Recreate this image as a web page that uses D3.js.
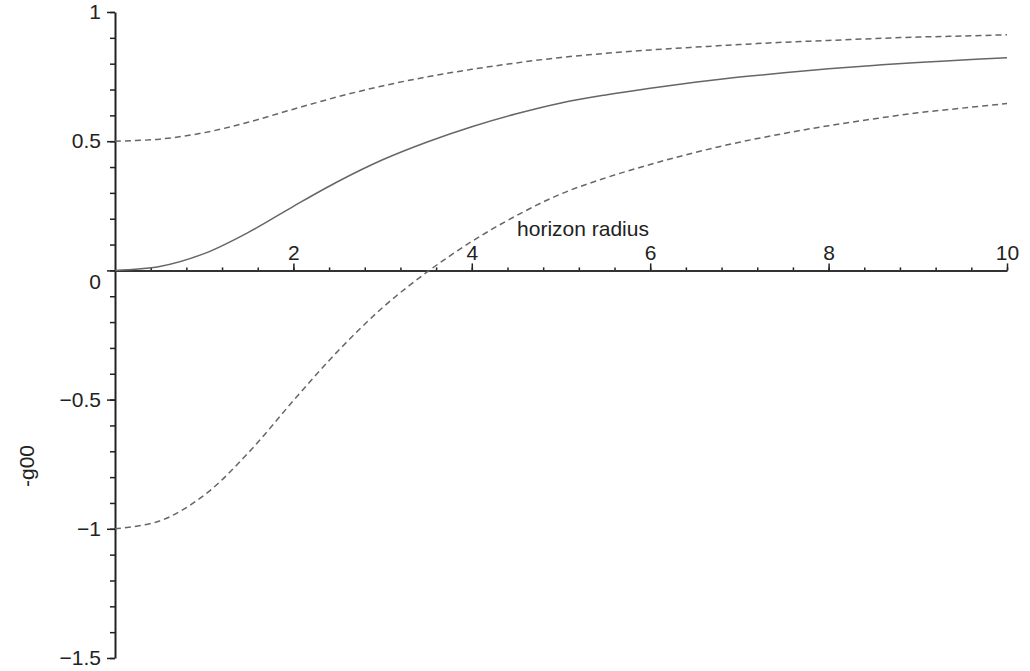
<!DOCTYPE html>
<html>
<head>
<meta charset="utf-8">
<script src="https://cdn.jsdelivr.net/npm/d3@7"></script>
<style>
  body { margin: 0; background: #fff; }
  text { font-family: "Liberation Sans", Arial, sans-serif; fill: #222; }
</style>
</head>
<body>
<div id="container"></div>
<script>
/* DATA */
const radius = [0, 0.5, 1, 1.5, 2, 2.5, 3, 3.5, 4, 4.5, 5, 5.5, 6, 6.5, 7, 7.5, 8, 8.5, 9, 9.5, 10];
const upperG00 = [0.5, 0.508, 0.533, 0.574, 0.624, 0.672, 0.714, 0.749, 0.778, 0.803, 0.824, 0.840, 0.853, 0.864, 0.874, 0.883, 0.890, 0.897, 0.903, 0.907, 0.912];
const middleG00 = [0, 0.015, 0.065, 0.148, 0.248, 0.344, 0.428, 0.497, 0.556, 0.606, 0.648, 0.679, 0.705, 0.728, 0.748, 0.765, 0.780, 0.793, 0.805, 0.814, 0.823];
const lowerG00 = [-1, -0.97, -0.87, -0.704, -0.504, -0.312, -0.144, -0.006, 0.112, 0.212, 0.296, 0.358, 0.41, 0.456, 0.496, 0.53, 0.56, 0.586, 0.61, 0.628, 0.646];
const xTicks = [2, 4, 6, 8, 10];
const yTicks = [1, 0.5, 0, -0.5, -1, -1.5];

/* LAYOUT */
const width = 1030, height = 671;
const margin = { top: 12, right: 23, bottom: 13, left: 115 };

const svg = d3.select('#container')
  .append('svg')
  .attr('width', width)
  .attr('height', height);

const xScale = d3.scaleLinear()
  .domain([0, 10])
  .range([margin.left, width - margin.right]);

const yScale = d3.scaleLinear()
  .domain([-1.5, 1])
  .range([height - margin.bottom, margin.top]);

const fmt = d => d3.format('')(d).replace('-', '\u2212');

// y axis: minor ticks then major ticks
svg.append('g')
  .attr('transform', `translate(${xScale(0)},0)`)
  .call(d3.axisLeft(yScale).tickValues(d3.range(-15, 11).map(d => d / 10)).tickSize(5).tickFormat(''))
  .call(g => g.select('.domain').remove())
  .call(g => g.selectAll('line').attr('stroke', '#222').attr('stroke-width', 1.5));

const yAxis = svg.append('g')
  .attr('transform', `translate(${xScale(0)},0)`)
  .call(d3.axisLeft(yScale).tickValues(yTicks).tickSize(8).tickPadding(6).tickSizeOuter(0).tickFormat(fmt));
yAxis.select('.domain').attr('stroke', '#222').attr('stroke-width', 2);
yAxis.selectAll('line').attr('stroke', '#222').attr('stroke-width', 1.5);
yAxis.selectAll('text').style('font-size', '21px').attr('fill', '#222');
yAxis.selectAll('.tick').filter(d => d === 0).select('text').attr('dy', '0.85em');

// x axis along y = 0, ticks pointing up
svg.append('g')
  .attr('transform', `translate(0,${yScale(0)})`)
  .call(d3.axisTop(xScale).tickValues(d3.range(1, 26).map(d => d * 0.4)).tickSize(3).tickFormat(''))
  .call(g => g.select('.domain').remove())
  .call(g => g.selectAll('line').attr('stroke', '#222').attr('stroke-width', 1.5));

const xAxis = svg.append('g')
  .attr('transform', `translate(0,${yScale(0)})`)
  .call(d3.axisTop(xScale).tickValues(xTicks).tickSize(7).tickPadding(3).tickSizeOuter(0));
xAxis.select('.domain').attr('stroke', '#333').attr('stroke-width', 2);
xAxis.selectAll('line').attr('stroke', '#222').attr('stroke-width', 1.5);
xAxis.selectAll('text').style('font-size', '21px').attr('fill', '#222');

// curves
const line = d3.line()
  .x(d => xScale(d[0]))
  .y(d => yScale(d[1]))
  .curve(d3.curveCatmullRom.alpha(0.5));

const series = [
  { values: upperG00, dash: '6,4' },
  { values: middleG00, dash: null },
  { values: lowerG00, dash: '6,4' }
];

svg.selectAll('path.curve')
  .data(series)
  .join('path')
  .attr('class', 'curve')
  .attr('d', s => line(radius.map((r, i) => [r, s.values[i]])))
  .attr('fill', 'none')
  .attr('stroke', '#666')
  .attr('stroke-width', 1.5)
  .attr('stroke-dasharray', s => s.dash);

// axis labels
svg.append('text')
  .attr('x', 583)
  .attr('y', 236)
  .attr('text-anchor', 'middle')
  .style('font-size', '21px')
  .text('horizon radius');

svg.append('text')
  .attr('transform', 'translate(34,466) rotate(-90)')
  .attr('text-anchor', 'middle')
  .style('font-size', '21px')
  .text('-g00');
</script>
</body>
</html>
